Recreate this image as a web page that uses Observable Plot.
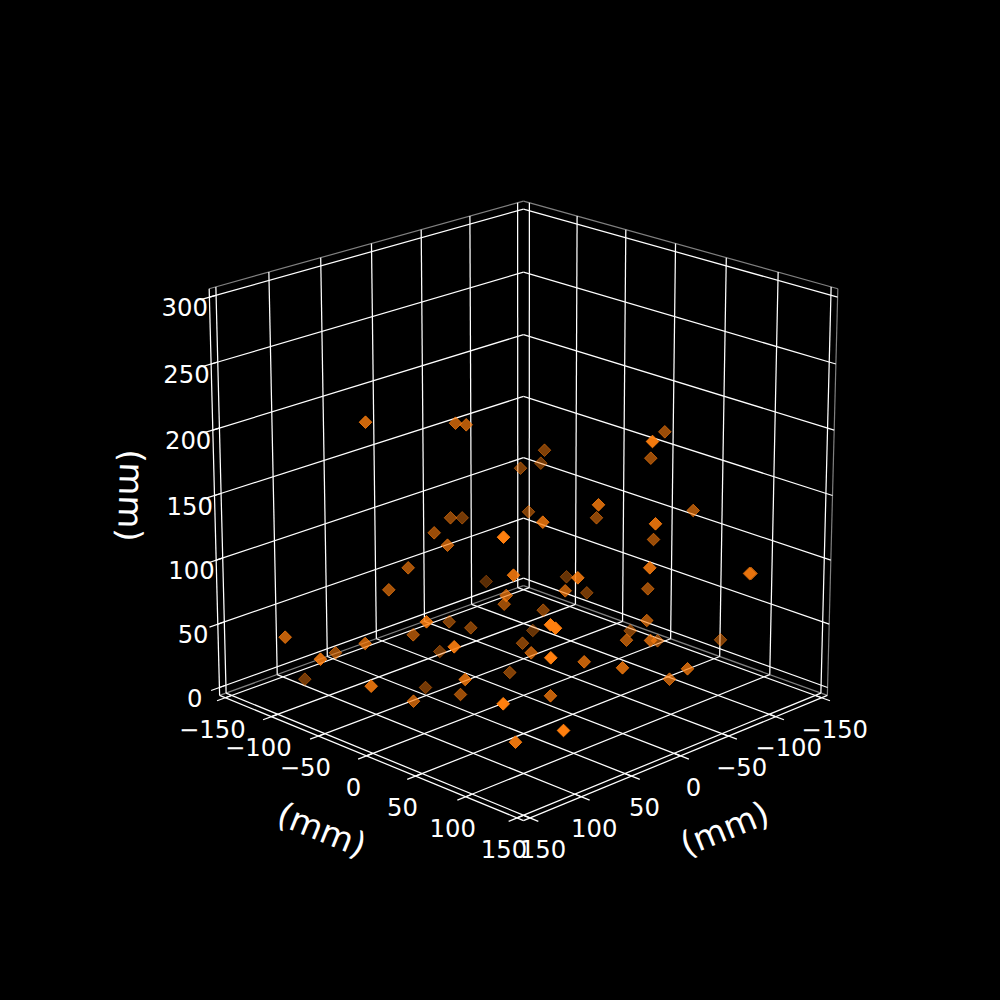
<!DOCTYPE html>
<html>
<head>
<meta charset="utf-8">
<script src="https://cdn.jsdelivr.net/npm/d3@7"></script>
<script src="https://cdn.jsdelivr.net/npm/@observablehq/plot@0.6"></script>
<style>html,body{margin:0;padding:0;background:#000}</style>
</head>
<body>
<div id="chart"></div>
<script>
// tick values (mm)
const xyTicks = [-150,-100,-50,0,50,100,150];
const zTicks = [0,50,100,150,200,250,300];
const xyLabels = ["−150","−100","−50","0","50","100","150"];
const zLabels = ["0","50","100","150","200","250","300"];
const axisTitle = "(mm)";
// scatter points (screen position and depth shade)
const ptX = [720,532.3,566,485.7,461.7,540.3,304.3,439.3,425,586.3,629.7,657,522,509.3,448.7,470.3,544,520,528,542.7,450,412.7,335,596,653,650.3,664.3,647.3,433.7,407.7,388.3,460,503.7,692.7,455,465.7,646.3,626,447,413,505.7,669,564.7,530.7,550,583.7,284.7,364.7,365,687,650,622,370.7,464.7,513,320,426,598,542.3,655,649.3,577.3,453.7,515,749,750.5,652,503,502.7,563,550,555,550.3];
const ptY = [639.3,630,576.3,581,517.3,462.7,678.7,651,687,592.3,630.3,640.3,642.7,672,621.3,627.3,449.7,467.7,511.3,609.7,517.3,634.3,652.3,517.3,539,457.7,431.3,588.3,532.3,567.3,589.3,694,603.7,510,422.7,424.3,620,639.7,544.7,700.7,595,678.7,590.3,652.3,695.3,661.3,636.7,643,421.7,668.3,640,667.3,685.7,679,574.7,658.7,621.3,504.3,521.7,523.3,567.3,577.3,646.3,741.7,573,573,441,536.7,703.3,730,624.3,627.7,657.3];
const ptShade = [.5,.4,.4,.35,.45,.45,.45,.45,.45,.45,.5,.55,.5,.5,.5,.5,.5,.5,.5,.5,.55,.6,.6,.55,.6,.6,.6,.6,.6,.65,.65,.6,.6,.65,.7,.7,.65,.65,.7,.7,.7,.7,.7,.7,.75,.75,.75,.75,.8,.75,.75,.8,.85,.8,.85,.85,.85,.8,.8,.85,.85,.85,.9,.9,.7,.7,.95,1,1,1,1,1,1];

// matplotlib-style 3D view of the data cube
const lim = 156.25, zLo = -6.25, zHi = 306.25;
const el = 20 * Math.PI / 180, dist = 10, half = 0.5, zHalf = 0.495, S = 4370, cx = 523, cy = 495;
const ce = Math.cos(el), se = Math.sin(el), r2 = Math.SQRT1_2;
function proj(x, y, z) {
  const X = x / lim * half, Y = y / lim * half, Z = ((z - zLo) / (zHi - zLo) - 0.5) * 2 * zHalf;
  const xv = (Y - X) * r2;
  const yv = -(X + Y) * r2 * se + Z * ce;
  const zv = (X + Y) * r2 * ce + Z * se;
  const w = dist - zv;
  return [cx + S * xv / w, cy - S * yv / w];
}
const seg = (a, b) => { const p = proj(...a), q = proj(...b); return {x1:p[0], y1:p[1], x2:q[0], y2:q[1]}; };

const grid = [], ticks = [], axes = [], panes = [];
const tickOut = 8, tickIn = 6;
for (const t of xyTicks) {
  // ticks along the y axis (left side, at x = +lim)
  grid.push(seg([lim,t,zLo],[-lim,t,zLo]), seg([-lim,t,zLo],[-lim,t,zHi]));
  ticks.push(seg([lim-tickIn,t,zLo],[lim+tickOut,t,zLo]));
  // ticks along the x axis (right side, at y = +lim)
  grid.push(seg([t,lim,zLo],[t,-lim,zLo]), seg([t,-lim,zLo],[t,-lim,zHi]));
  ticks.push(seg([t,lim-tickIn,zLo],[t,lim+tickOut,zLo]));
}
for (const t of zTicks) {
  grid.push(seg([lim,-lim,t],[-lim,-lim,t]), seg([-lim,-lim,t],[-lim,lim,t]));
  ticks.push(seg([lim-tickIn,-lim,t],[lim+tickOut,-lim,t]));
}
axes.push(seg([lim,-lim,zLo],[lim,lim,zLo]), seg([-lim,lim,zLo],[lim,lim,zLo]), seg([lim,-lim,zLo],[lim,-lim,zHi]));
panes.push(seg([lim,-lim,zHi],[-lim,-lim,zHi]), seg([-lim,-lim,zHi],[-lim,lim,zHi]), seg([-lim,lim,zHi],[-lim,lim,zLo]),
           seg([lim,-lim,zLo],[-lim,-lim,zLo]), seg([-lim,-lim,zLo],[-lim,lim,zLo]));

const points = ptX.map((x,i) => ({x, y: ptY[i], a: ptShade[i]}));
const leftLabels = xyLabels.map((s,i) => { const p = proj(lim, xyTicks[i], zLo); return {s, x:p[0], y:p[1]}; });
const rightLabels = xyLabels.map((s,i) => { const p = proj(xyTicks[i], lim, zLo); return {s, x:p[0], y:p[1]}; });
const zLab = zLabels.map((s,i) => { const p = proj(lim, -lim, zTicks[i]); return {s, x:p[0], y:p[1]}; });
const linkOpts = {x1:"x1", y1:"y1", x2:"x2", y2:"y2"};
const font = "DejaVu Sans";
const tickText = {x:"x", y:"y", text:"s", fill:"white", fontSize:24.3, fontFamily:font, textAnchor:"middle", lineAnchor:"middle"};
const titleText = {text:d=>d, fill:"white", fontSize:33.8, fontFamily:font, textAnchor:"middle", lineAnchor:"middle"};

const chart = Plot.plot({
  width:1000, height:1000, margin:0,
  style:{background:"black", display:"block"},
  x:{domain:[0,1000], axis:null},
  y:{domain:[1000,0], axis:null},
  marks:[
    Plot.link(panes, {...linkOpts, stroke:"#808080", strokeWidth:1.2}),
    Plot.link(grid, {...linkOpts, stroke:"white", strokeWidth:1.25}),
    Plot.link(axes, {...linkOpts, stroke:"white", strokeWidth:1.25}),
    Plot.link(ticks, {...linkOpts, stroke:"white", strokeWidth:1.25}),
    Plot.dot(points, {x:"x", y:"y", symbol:"diamond2", r:5.7, fill:"#ff7f0e", stroke:"#ff7f0e", strokeWidth:1, fillOpacity:"a", strokeOpacity:"a"}),
    Plot.text(leftLabels, {...tickText, dx:-13, dy:32}),
    Plot.text(rightLabels, {...tickText, dx:13, dy:32}),
    Plot.text(zLab, {...tickText, dx:-24.7, dy:11.5}),
    Plot.text([axisTitle], {...titleText, x:()=>321, y:()=>830, rotate:22}),
    Plot.text([axisTitle], {...titleText, x:()=>724.5, y:()=>829, rotate:-22}),
    Plot.text([axisTitle], {...titleText, x:()=>129.5, y:()=>495, rotate:91.5})
  ]
});
document.getElementById("chart").append(chart);
</script>
</body>
</html>
